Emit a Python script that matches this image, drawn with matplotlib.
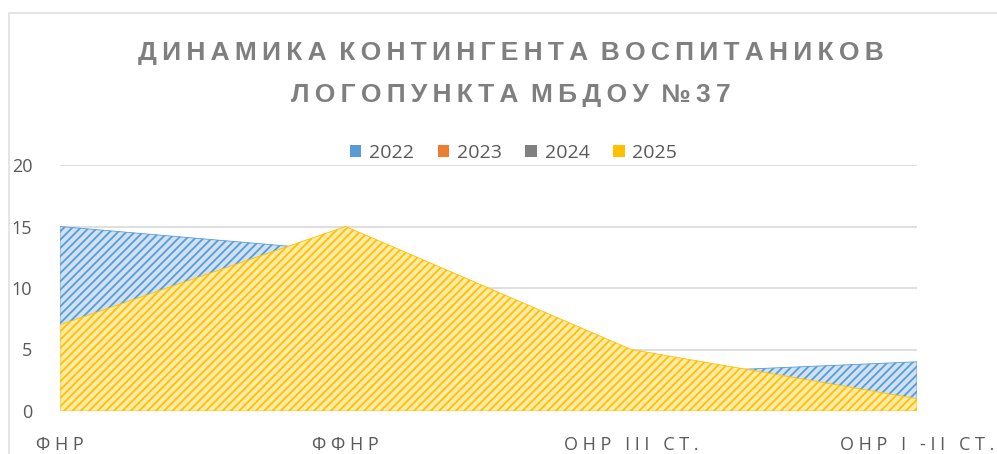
import matplotlib.pyplot as plt
from matplotlib.patches import Patch, Rectangle

# категории и значения
categories = ['ФНР', 'ФФНР', 'ОНР III СТ.', 'ОНР I -II СТ.']
years = ['2022', '2023', '2024', '2025']
v2022 = [15, 13, 3, 4]
v2023 = [0, 0, 0, 0]
v2024 = [0, 0, 0, 0]
v2025 = [7, 15, 5, 1]
yticks = [0, 5, 10, 15, 20]

colors = ['#5b9bd5', '#ed7d31', '#808080', '#ffc000']
lights = ['#cfe2f3', '#f8cbad', '#d0d0d0', '#ffeaa8']

plt.rcParams['hatch.linewidth'] = 1.3
plt.rcParams['font.family'] = ['Open Sans', 'DejaVu Sans']


def spaced(s, gap=' ', wgap='   '):
    # разрядка букв как в Excel
    words = s.split(' ')
    return wgap.join(gap.join(w) for w in words)


fig = plt.figure(figsize=(9.97, 4.54), dpi=100)
ax = fig.add_axes([60 / 997, 43 / 454, 857 / 997, 246 / 454])

x = list(range(len(categories)))
series = [v2022, v2023, v2024, v2025]
for vals, c, lc in zip(series, colors, lights):
    ax.fill_between(x, 0, vals, facecolor=lc, edgecolor=c, hatch='////',
                    linewidth=0.6, zorder=2)

ax.set_xlim(0, 3)
ax.set_ylim(0, 20)
ax.set_yticks(yticks)
ax.grid(axis='y', color='#d9d9d9', linewidth=1.2, zorder=0)
ax.set_axisbelow(True)
for s in ax.spines.values():
    s.set_visible(False)
ax.set_xticks(x)
ax.set_xticklabels([spaced(c, ' ', '   ') for c in categories])
ax.tick_params(axis='both', length=0, labelsize=13, labelcolor='#595959')
ax.tick_params(axis='x', pad=18)
ax.tick_params(axis='y', pad=20)

# рамка диаграммы
fig.patches.append(Rectangle((9 / 997, -0.1), 1.2, 1 - 13 / 454 + 0.1,
                             transform=fig.transFigure, fill=False,
                             edgecolor='#e0e0e0', linewidth=1.2))

title1 = 'ДИНАМИКА КОНТИНГЕНТА ВОСПИТАНИКОВ'
title2 = 'ЛОГОПУНКТА МБДОУ №37'
tfont = dict(fontsize=19, fontweight='bold', color='#7f7f7f',
             family=['Liberation Sans', 'DejaVu Sans'],
             ha='center', va='center')
fig.text(0.512, 1 - 53 / 454, spaced(title1, '\u2009', ' \u2009'), **tfont)
fig.text(0.512, 1 - 95 / 454, spaced(title2, '\u2009', ' \u2009'), **tfont)

handles = [Patch(facecolor=c, edgecolor='none') for c in colors]
fig.legend(handles, years, loc='center', bbox_to_anchor=(0.515, 1 - 153 / 454),
           ncol=4, frameon=False, fontsize=14, labelcolor='#595959',
           handlelength=0.6, handleheight=0.6, handletextpad=0.4,
           columnspacing=1.2)

fig.savefig('out.png', dpi=100)
